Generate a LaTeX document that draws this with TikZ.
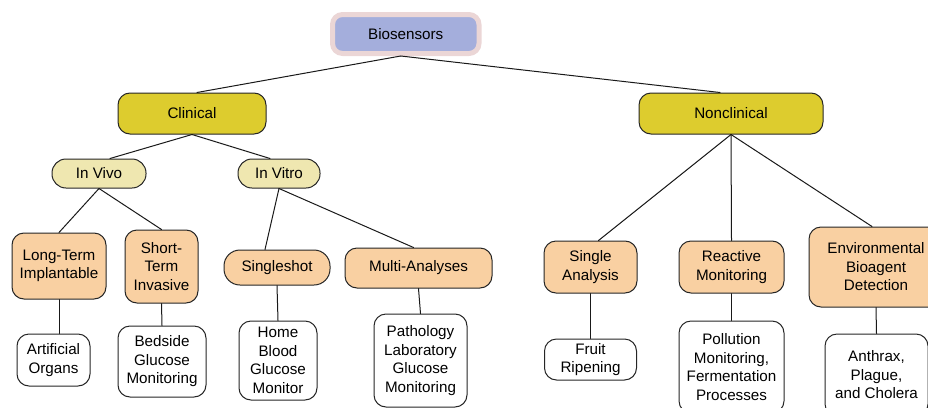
\documentclass[tikz,border=0pt]{standalone}
\usepackage{fontspec}
\setmainfont{Liberation Sans}
\definecolor{ringpink}{HTML}{EBD6D6}
\definecolor{topblue}{HTML}{A4AEDC}
\definecolor{mainyellow}{HTML}{DDCC2E}
\definecolor{subyellow}{HTML}{EFE7B0}
\definecolor{kindorange}{HTML}{F9D0A2}
\begin{document}
\begin{tikzpicture}[x=1pt, y=-1pt, font=\fontsize{15.2}{18.5}\selectfont, line join=round, line cap=round,
	box/.style={draw=black!85, line width=1pt, rounded corners=12pt, align=center, inner sep=0pt},
	topbox/.style={box, fill=topblue, draw=ringpink, line width=5pt, rounded corners=10pt},
	mainbox/.style={box, fill=mainyellow},
	subbox/.style={box, fill=subyellow, rounded corners=14pt},
	kindbox/.style={box, fill=kindorange},
	leafbox/.style={box, fill=white},
	link/.style={draw=black!90, line width=1pt}]
	\useasboundingbox (0,0) rectangle (928,407);
	% top and main branches
	\node[topbox, minimum width=146.5pt, minimum height=39pt] (bio) at (405.75,34) {Biosensors};
	\node[mainbox, minimum width=148pt, minimum height=41pt] (clin) at (192,113.5) {Clinical};
	\node[mainbox, minimum width=184pt, minimum height=41pt] (nonclin) at (731,113.5) {Nonclinical};
	\node[subbox, minimum width=94pt, minimum height=29pt] (vivo) at (99,173.5) {In Vivo};
	\node[subbox, minimum width=82pt, minimum height=29pt] (vitro) at (279,173.5) {In Vitro};
	% kinds
	\node[kindbox, minimum width=94pt, minimum height=66pt] (longterm) at (59,266) {Long-Term\\Implantable};
	\node[kindbox, minimum width=73pt, minimum height=73pt] (shortterm) at (161.5,266.5) {Short-\\Term\\Invasive};
	\node[kindbox, minimum width=106pt, minimum height=35pt, rounded corners=16pt] (singleshot) at (277,267.5) {Singleshot};
	\node[kindbox, minimum width=147pt, minimum height=40pt] (multi) at (418.5,268) {Multi-Analyses};
	\node[kindbox, minimum width=93pt, minimum height=52pt] (single) at (590.5,267) {Single\\Analysis};
	\node[kindbox, minimum width=105pt, minimum height=52pt] (reactive) at (731.5,267) {Reactive\\Monitoring};
	\node[kindbox, minimum width=134pt, minimum height=80pt] (enviro) at (876,267) {Environmental\\Bioagent\\Detection};
	% uses
	\node[leafbox, minimum width=73pt, minimum height=52pt] (organs) at (53.5,360) {Artificial\\Organs};
	\node[leafbox, minimum width=88pt, minimum height=71pt] (bedside) at (162,361.5) {Bedside\\Glucose\\Monitoring};
	\node[leafbox, minimum width=78pt, minimum height=79pt] (home) at (278,360.5) {Home\\Blood\\Glucose\\Monitor};
	\node[leafbox, minimum width=93pt, minimum height=93pt] (patho) at (420.5,360.5) {Pathology\\Laboratory\\Glucose\\Monitoring};
	\node[leafbox, minimum width=92pt, minimum height=41pt] (fruit) at (590.5,359.5) {Fruit\\Ripening};
	\node[leafbox, minimum width=105pt, minimum height=92pt] (pollution) at (731.5,367) {Pollution\\Monitoring,\\Fermentation\\Processes};
	\node[leafbox, minimum width=103pt, minimum height=82pt] (anthrax) at (876.5,375) {Anthrax,\\Plague,\\and Cholera};
	% connectors
	\draw[link] ([xshift=-5pt]bio.south) -- ([xshift=5pt]clin.north);
	\draw[link] ([xshift=-5pt]bio.south) -- ([xshift=-11pt]nonclin.north);
	\draw[link] (clin.south) -- ([xshift=11pt]vivo.north);
	\draw[link] (clin.south) -- ([xshift=-9pt]vitro.north);
	\draw[link] (vivo.south) -- (longterm.north);
	\draw[link] (vivo.south) -- (shortterm.north);
	\draw[link] (vitro.south) -- ([xshift=-12pt]singleshot.north);
	\draw[link] (vitro.south) -- ([xshift=-5pt]multi.north);
	\draw[link] (nonclin.south) -- ([xshift=8pt]single.north);
	\draw[link] (nonclin.south) -- (reactive.north);
	\draw[link] (nonclin.south) -- ([xshift=-4pt]enviro.north);
	\draw[link] (longterm.south) -- (organs.north -| longterm.south);
	\draw[link] (shortterm.south) -- (bedside.north);
	\draw[link] (singleshot.south) -- (home.north);
	\draw[link] (multi.south) -- (patho.north);
	\draw[link] (single.south) -- (fruit.north);
	\draw[link] (reactive.south) -- (pollution.north);
	\draw[link] (enviro.south) -- (anthrax.north);
\end{tikzpicture}
\end{document}
